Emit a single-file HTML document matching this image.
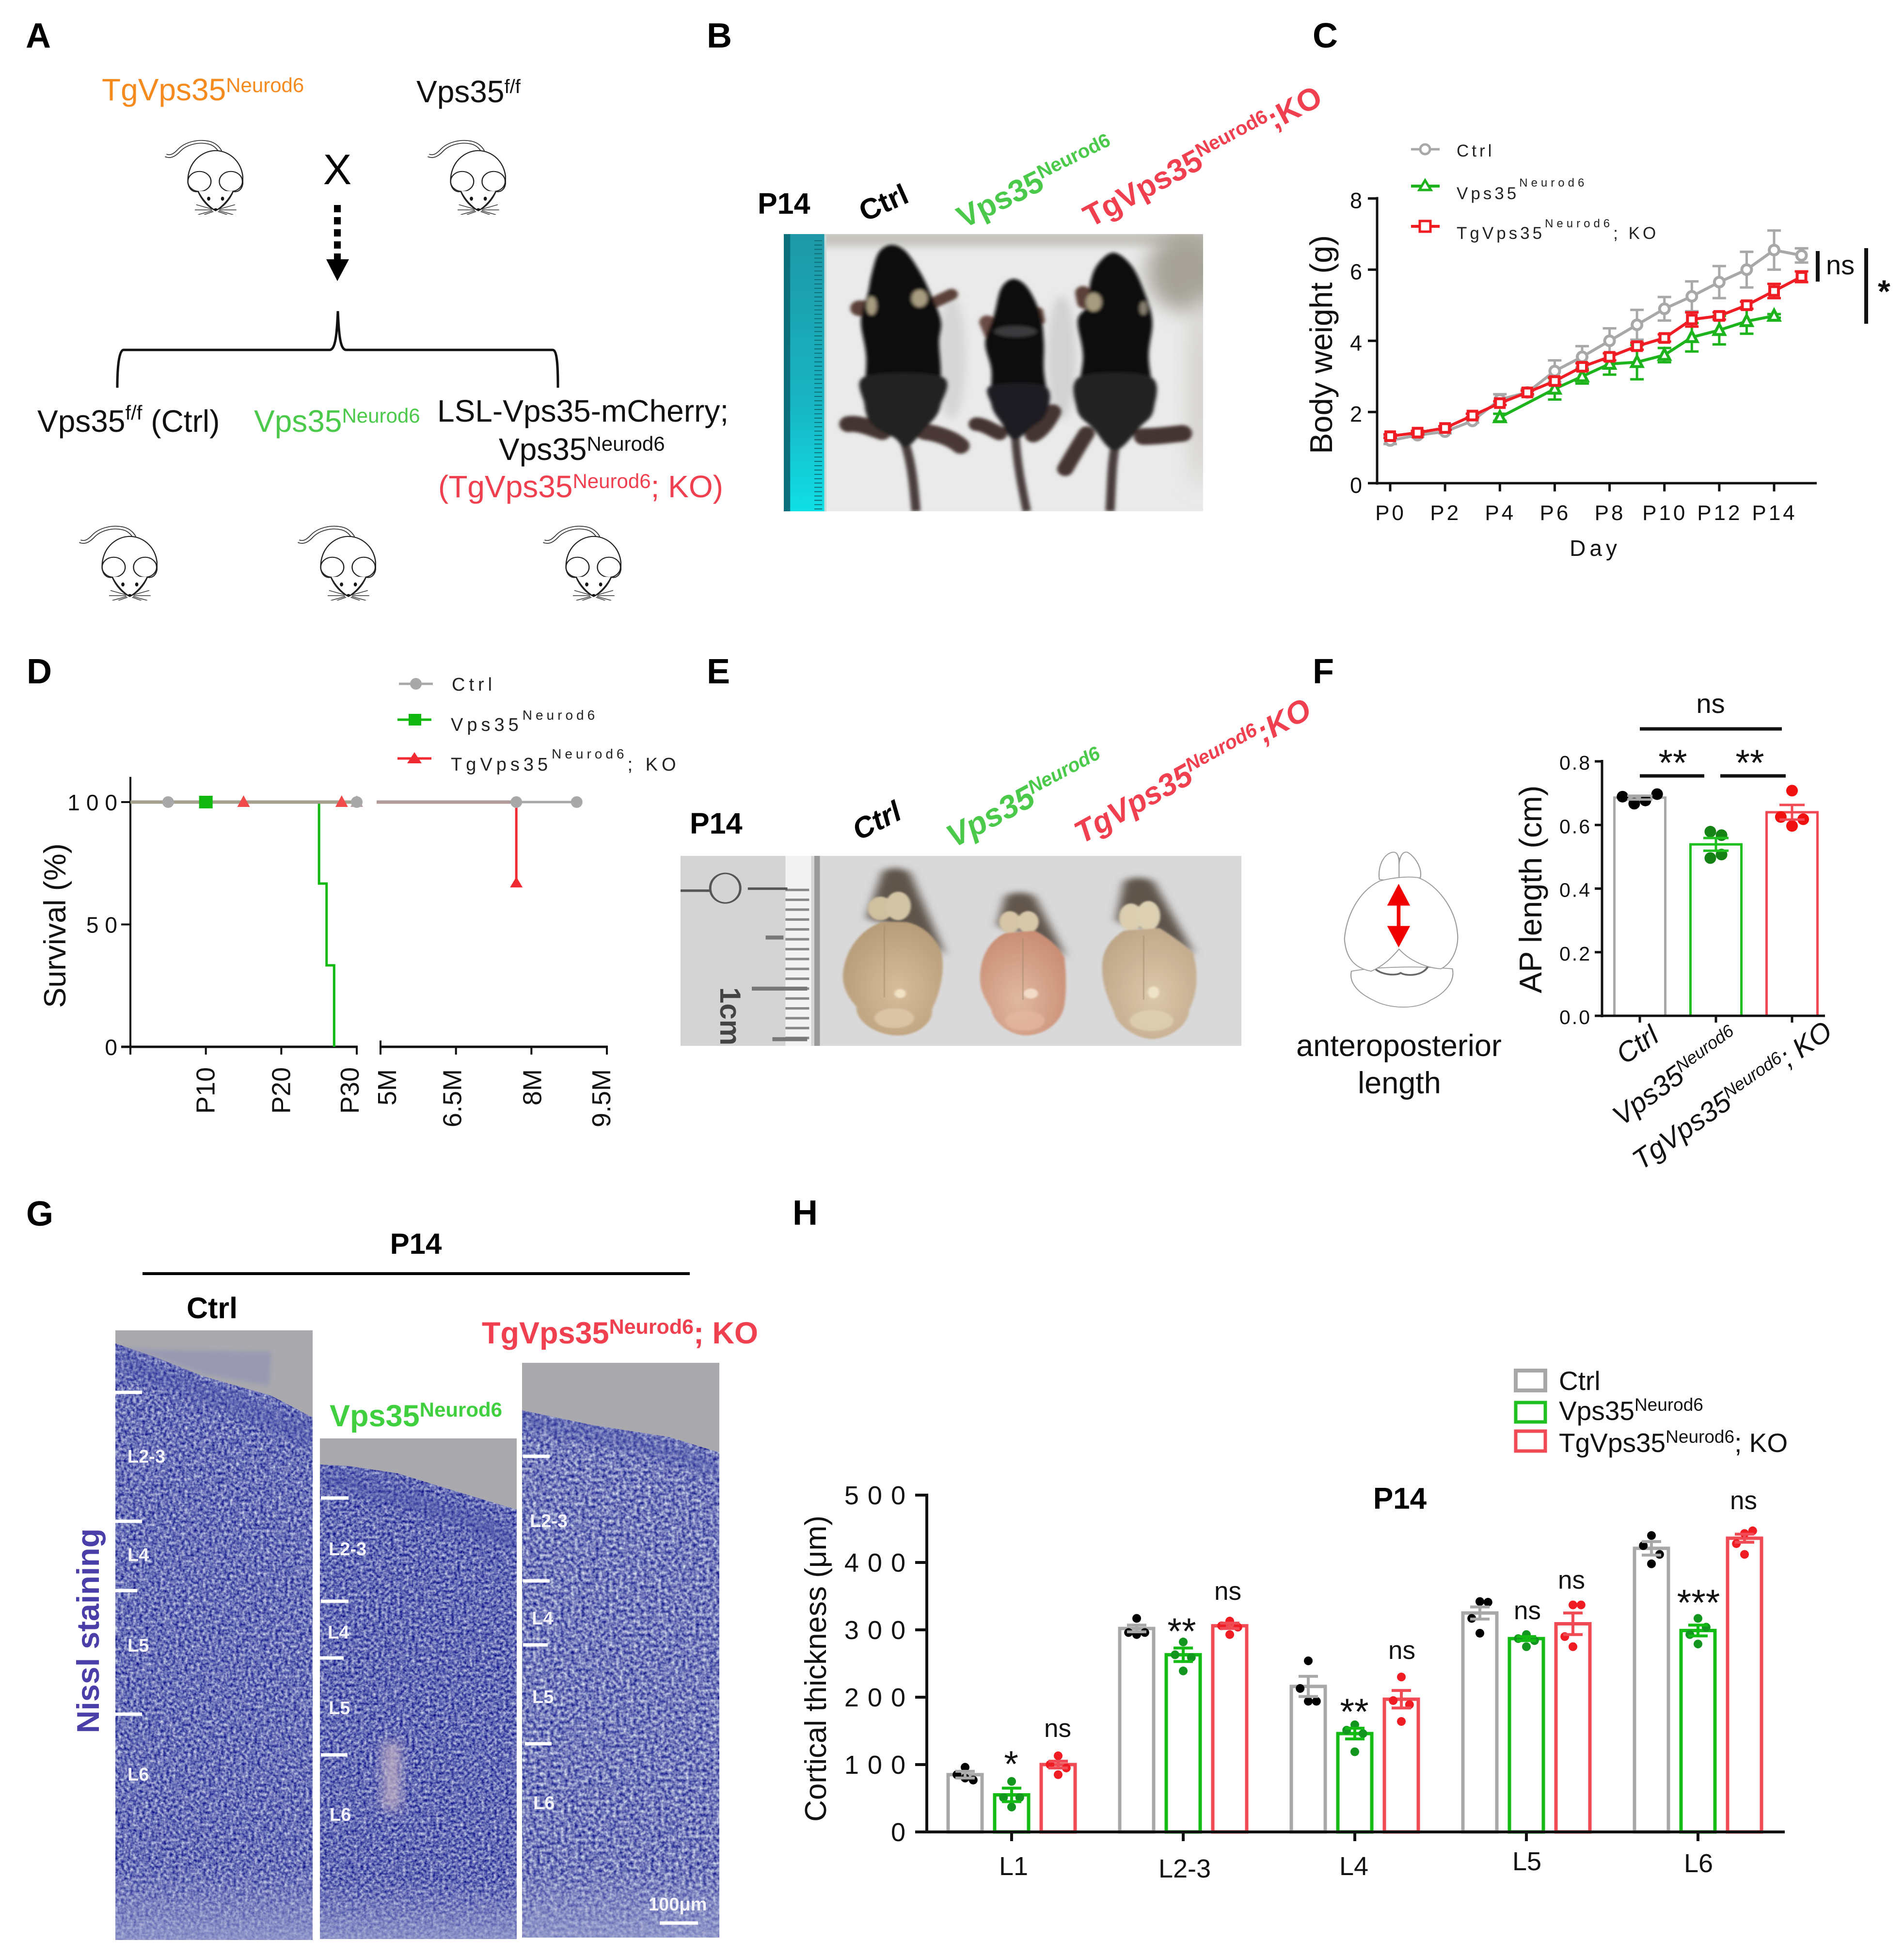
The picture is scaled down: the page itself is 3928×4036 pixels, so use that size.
<!DOCTYPE html>
<html><head><meta charset="utf-8"><title>Vps35 figure</title>
<style>html,body{margin:0;padding:0;background:#fff}svg{display:block}text{font-family:"Liberation Sans",sans-serif}</style></head>
<body>
<svg id="fig" xmlns="http://www.w3.org/2000/svg" width="3928" height="4036" viewBox="0 0 3928 4036">
<defs>
<filter id="b3" x="-20%" y="-20%" width="140%" height="140%"><feGaussianBlur stdDeviation="3"/></filter>
<filter id="b6" x="-20%" y="-20%" width="140%" height="140%"><feGaussianBlur stdDeviation="5"/></filter>
<filter id="b12" x="-50%" y="-50%" width="200%" height="200%"><feGaussianBlur stdDeviation="12"/></filter>
<filter id="b30" x="-80%" y="-80%" width="260%" height="260%"><feGaussianBlur stdDeviation="30"/></filter>
<filter id="n1" filterUnits="objectBoundingBox" x="0" y="0" width="1" height="1" color-interpolation-filters="sRGB"><feTurbulence type="fractalNoise" baseFrequency="0.16" numOctaves="2" seed="3"/><feColorMatrix type="matrix" values="1.1 0 0 0 -0.13 1.1 0 0 0 -0.103 .55 0 0 0 .445 0 0 0 0 1"/></filter>
<filter id="n2" filterUnits="objectBoundingBox" x="0" y="0" width="1" height="1" color-interpolation-filters="sRGB"><feTurbulence type="fractalNoise" baseFrequency="0.16" numOctaves="2" seed="11"/><feColorMatrix type="matrix" values="1.1 0 0 0 -0.15 1.1 0 0 0 -0.123 .55 0 0 0 .435 0 0 0 0 1"/></filter>
<filter id="n3" filterUnits="objectBoundingBox" x="0" y="0" width="1" height="1" color-interpolation-filters="sRGB"><feTurbulence type="fractalNoise" baseFrequency="0.14" numOctaves="2" seed="23"/><feColorMatrix type="matrix" values="1.1 0 0 0 -0.09 1.1 0 0 0 -0.063 .55 0 0 0 .46 0 0 0 0 1"/></filter>
<linearGradient id="rul" x1="0" y1="0" x2="0" y2="1"><stop offset="0" stop-color="#1e98a6"/><stop offset=".6" stop-color="#18b4c2"/><stop offset="1" stop-color="#10dfe6"/></linearGradient>
<linearGradient id="botband" x1="0" y1="0" x2="0" y2="1"><stop offset="0" stop-color="#9ca2cf" stop-opacity="0"/><stop offset="1" stop-color="#9ca2cf" stop-opacity=".7"/></linearGradient>
<radialGradient id="br1" cx=".55" cy=".6" r=".65"><stop offset="0" stop-color="#d8bd9a"/><stop offset="1" stop-color="#b59a76"/></radialGradient>
<radialGradient id="br2" cx=".45" cy=".65" r=".65"><stop offset="0" stop-color="#e0b8a0"/><stop offset="1" stop-color="#c98e74"/></radialGradient>
<radialGradient id="br3" cx=".55" cy=".6" r=".65"><stop offset="0" stop-color="#dcc8aa"/><stop offset="1" stop-color="#bfa688"/></radialGradient>
<symbol id="mouse" viewBox="0 0 170 190" preserveAspectRatio="none">
<path d="M2,42 C14,48 24,38 32,28 C46,12 72,4 95,10 C106,13 114,20 120,32" fill="none" stroke="#333" stroke-width="9"/>
<path d="M2,42 C14,48 24,38 32,28 C46,12 72,4 95,10 C106,13 114,20 120,32" fill="none" stroke="#fff" stroke-width="5"/>
<path d="M50,110 C48,60 80,30 110,30 C140,30 172,60 169,110 C168,125 160,135 148,132 C140,155 125,172 110,180 C95,172 80,155 72,132 C60,135 52,125 50,110 Z" fill="#fff" stroke="#222" stroke-width="2.5"/>
<circle cx="75" cy="107" r="25" fill="#fff" stroke="#222" stroke-width="2.5"/><circle cx="143" cy="107" r="25" fill="#fff" stroke="#222" stroke-width="2.5"/>
<path d="M72,131 C80,150 95,170 110,180 C125,170 140,150 148,131" fill="#fff" stroke="#222" stroke-width="2.5"/>
<ellipse cx="95" cy="150" rx="3.5" ry="5" fill="#111"/><ellipse cx="125" cy="150" rx="3.5" ry="5" fill="#111"/><ellipse cx="110" cy="177" rx="4" ry="3" fill="#111"/>
<path d="M102,176 L68,165 M102,178 L65,178 M103,180 L72,190 M105,182 L85,190 M118,176 L152,165 M118,178 L155,178 M117,180 L148,190 M115,182 L135,190" stroke="#333" stroke-width="1.8" fill="none"/>
</symbol>
</defs>
<rect width="3928" height="4036" fill="#fff"/>

<!-- panel letters -->
<g font-weight="bold" font-size="72" fill="#000">
<text x="53" y="98">A</text>
<text x="1458" y="98">B</text>
<text x="2708" y="98">C</text>
<text x="55" y="1410">D</text>
<text x="1458" y="1410">E</text>
<text x="2708" y="1410">F</text>
<text x="54" y="2529">G</text>
<text x="1635" y="2527">H</text>
</g>

<!-- Panel A -->
<g font-size="64">
<text x="210" y="207" fill="#f58a1f">TgVps35<tspan dy="-17" font-size="42">Neurod6</tspan></text>
<text x="859" y="211" fill="#111">Vps35<tspan dy="-19" font-size="40">f/f</tspan></text>
<use href="#mouse" x="340" y="286" width="162" height="157"/>
<use href="#mouse" x="882" y="286" width="162" height="157"/>
<text x="696" y="380" text-anchor="middle" font-size="88" fill="#000">X</text>
<line x1="696" y1="423" x2="696" y2="536" stroke="#000" stroke-width="14" stroke-dasharray="15 10"/>
<polygon points="673,535 720,535 696,580" fill="#000"/>
<path d="M242,800 C242,760 245,722 255,722 L680,722 C692,722 695,690 697,642 C699,690 702,722 714,722 L1140,722 C1150,722 1151,760 1151,800" fill="none" stroke="#111" stroke-width="5"/>
<text x="77" y="891" fill="#111">Vps35<tspan dy="-25" font-size="42">f/f</tspan><tspan dy="25"> (Ctrl)</tspan></text>
<text x="524" y="891" fill="#4bc94b">Vps35<tspan dy="-19" font-size="42">Neurod6</tspan></text>
<text x="902" y="870" fill="#111">LSL-Vps35-mCherry;</text>
<text x="1029" y="949" fill="#111">Vps35<tspan dy="-19" font-size="42">Neurod6</tspan></text>
<text x="904" y="1026" fill="#f04050">(TgVps35<tspan dy="-19" font-size="42">Neurod6</tspan><tspan dy="19">; KO)</tspan></text>
<use href="#mouse" x="163" y="1082" width="162" height="157"/>
<use href="#mouse" x="614" y="1082" width="162" height="157"/>
<use href="#mouse" x="1120" y="1082" width="162" height="157"/>
</g>

<!-- Panel B -->
<g>
<text x="1563" y="441" font-size="61" font-weight="bold">P14</text>
<text transform="translate(1784,458) rotate(-24)" font-size="60" font-weight="bold">Ctrl</text>
<text transform="translate(1988,472) rotate(-26)" font-size="64" font-weight="bold" fill="#4bc94b">Vps35<tspan dy="-22" font-size="40">Neurod6</tspan></text>
<text transform="translate(2250,470) rotate(-28)" font-size="64" font-weight="bold" fill="#f04050">TgVps35<tspan dy="-22" font-size="40">Neurod6</tspan><tspan dy="22">;KO</tspan></text>
<svg x="1617" y="483" width="865" height="572" viewBox="228 600 1180 897" preserveAspectRatio="none">
<rect x="228" y="600" width="1180" height="897" fill="#eaeaea"/>
<rect x="228" y="590" width="1200" height="50" fill="#c6c4be" filter="url(#b12)"/>
<ellipse cx="1360" cy="720" rx="110" ry="130" fill="#a6a298" filter="url(#b30)"/>
<ellipse cx="1400" cy="1100" rx="30" ry="320" fill="#d0cec8" filter="url(#b30)"/>
<ellipse cx="700" cy="1000" rx="40" ry="200" fill="#d6d6d6" filter="url(#b12)"/>
<ellipse cx="1010" cy="1000" rx="40" ry="200" fill="#d2d2d2" filter="url(#b12)"/>
<rect x="228" y="600" width="114" height="897" fill="url(#rul)"/>
<rect x="228" y="600" width="18" height="897" fill="#0c6f7c"/>
<line x1="325" y1="620" x2="325" y2="1497" stroke="#0d6e78" stroke-width="22" stroke-dasharray="3 11"/>
<rect x="342" y="600" width="6" height="897" fill="#c8d8d8"/>
<g filter="url(#b6)">
<path d="M570,1280 C590,1350 595,1430 600,1497" stroke="#4a3c3c" stroke-width="26" fill="none"/>
<path d="M880,1260 C885,1350 900,1430 912,1497" stroke="#4a3c3c" stroke-width="24" fill="none"/>
<path d="M1160,1290 C1150,1350 1150,1430 1146,1497" stroke="#4a3c3c" stroke-width="26" fill="none"/>
<path d="M410,1215 C440,1210 480,1230 505,1240" stroke="#453530" stroke-width="52" fill="none" stroke-linecap="round"/>
<path d="M625,1240 C660,1245 700,1260 725,1285" stroke="#4a3734" stroke-width="52" fill="none" stroke-linecap="round"/>
<path d="M770,1215 C790,1215 815,1235 835,1245" stroke="#453530" stroke-width="44" fill="none" stroke-linecap="round"/>
<path d="M930,1250 C955,1235 975,1200 985,1175" stroke="#453530" stroke-width="48" fill="none" stroke-linecap="round"/>
<path d="M1080,1245 C1060,1280 1040,1320 1020,1360" stroke="#453530" stroke-width="46" fill="none" stroke-linecap="round"/>
<path d="M1240,1255 C1280,1255 1320,1248 1350,1245" stroke="#453530" stroke-width="54" fill="none" stroke-linecap="round"/>
<path d="M440,840 L480,840" stroke="#5a4038" stroke-width="50" stroke-linecap="round"/>
<path d="M645,825 L700,795" stroke="#5a4038" stroke-width="36" stroke-linecap="round"/>
<path d="M800,885 L815,925" stroke="#6a4c44" stroke-width="44" stroke-linecap="round"/>
<path d="M945,850 L950,880" stroke="#5a4038" stroke-width="26" stroke-linecap="round"/>
<path d="M1070,790 L1075,820" stroke="#5a4038" stroke-width="44" stroke-linecap="round"/>
<path data-smooth="530,635 495,660 475,730 465,790 445,880 460,1000 455,1150 480,1220 540,1255 570,1290 600,1255 665,1170 670,1050 665,950 670,880 640,790 610,720 570,655" fill="#0b0b0c"/>
<path data-smooth="875,745 840,775 820,860 795,950 812,1040 812,1150 840,1210 875,1265 920,1230 970,1170 960,1040 960,950 950,860 915,775" fill="#0b0b0c"/>
<path data-smooth="1155,660 1110,700 1090,760 1085,830 1055,880 1070,1000 1052,1160 1100,1230 1160,1300 1230,1225 1270,1160 1255,1000 1265,880 1240,780 1205,700" fill="#0b0b0c"/>
<path data-smooth="458,1060 670,1060 670,1150 610,1250 570,1290 540,1260 480,1220 455,1150" fill="#222224"/>
<path data-smooth="812,1090 960,1090 970,1170 920,1230 875,1265 840,1210 812,1150" fill="#1e1e20"/>
<path data-smooth="1064,1060 1257,1060 1270,1160 1230,1225 1160,1300 1100,1230 1052,1160" fill="#222224"/>
<ellipse cx="475" cy="832" rx="14" ry="30" fill="#a89c80"/><ellipse cx="610" cy="808" rx="22" ry="28" fill="#a89c80"/>
<ellipse cx="1100" cy="820" rx="22" ry="30" fill="#a89c80"/><ellipse cx="1240" cy="840" rx="10" ry="22" fill="#888070"/>
<ellipse cx="880" cy="915" rx="60" ry="18" fill="#3a3a3c"/>
</g>
</svg>
</g>

<!-- Panel C -->
<g id="panel-c">
<g font-size="35" letter-spacing="6" fill="#222">
<g><line x1="2911" x2="2970" y1="308" y2="308" stroke="#a8a8a8" stroke-width="5"/><circle cx="2940" cy="308" r="10" fill="#fff" stroke="#a8a8a8" stroke-width="5"/><text x="3005" y="323">Ctrl</text></g>
<g><line x1="2911" x2="2970" y1="384" y2="384" stroke="#1db31d" stroke-width="6"/><polygon points="2940,372 2952,392 2928,392" fill="#fff" stroke="#1db31d" stroke-width="5"/><text x="3005" y="411">Vps35<tspan dy="-26" font-size="24" letter-spacing="7">Neurod6</tspan></text></g>
<g><line x1="2911" x2="2970" y1="467" y2="467" stroke="#f01c24" stroke-width="6"/><rect x="2929" y="456" width="22" height="22" fill="#fff" stroke="#f01c24" stroke-width="5"/><text x="3005" y="493">TgVps35<tspan dy="-24" font-size="24" letter-spacing="7">Neurod6</tspan><tspan dy="24">; KO</tspan></text></g>
</g>
<text transform="translate(2748,711) rotate(-90)" text-anchor="middle" font-size="65" fill="#111">Body weight (g)</text>
<text x="3291" y="1147" text-anchor="middle" font-size="46" letter-spacing="8" fill="#111">Day</text>
<line x1="3750" x2="3750" y1="518" y2="581" stroke="#111" stroke-width="8"/>
<text x="3767" y="566" font-size="56" fill="#111">ns</text>
<line x1="3850" x2="3850" y1="512" y2="668" stroke="#111" stroke-width="8"/>
<text x="3874" y="624" font-size="66" font-weight="bold" fill="#111">*</text>
</g>

<!-- Panel D -->
<g id="panel-d">
<g font-size="38" letter-spacing="8" fill="#222">
<g><line x1="823" x2="893" y1="1411" y2="1411" stroke="#a8a8a8" stroke-width="5"/><circle cx="858" cy="1411" r="12" fill="#a8a8a8"/><text x="932" y="1425">Ctrl</text></g>
<g><line x1="820" x2="890" y1="1485" y2="1485" stroke="#10b810" stroke-width="5"/><rect x="843" y="1473" width="26" height="24" fill="#10b810"/><text x="930" y="1508">Vps35<tspan dy="-23" font-size="28" letter-spacing="7">Neurod6</tspan></text></g>
<g><line x1="820" x2="890" y1="1565" y2="1565" stroke="#f02a30" stroke-width="5"/><polygon points="855,1552 870,1575 840,1575" fill="#f02a30"/><text x="930" y="1590">TgVps35<tspan dy="-25" font-size="28" letter-spacing="7">Neurod6</tspan><tspan dy="25">; KO</tspan></text></g>
</g>
<text transform="translate(135,1910) rotate(-90)" text-anchor="middle" font-size="63" fill="#111">Survival (%)</text>
</g>

<!-- Panel E -->
<g>
<text x="1423" y="1720" font-size="61" font-weight="bold">P14</text>
<text transform="translate(1772,1735) rotate(-27)" font-size="60" font-weight="bold" font-style="italic">Ctrl</text>
<text transform="translate(1968,1750) rotate(-28)" font-size="66" font-weight="bold" font-style="italic" fill="#4bc94b">Vps35<tspan dy="-22" font-size="40">Neurod6</tspan></text>
<text transform="translate(2232,1742) rotate(-29)" font-size="64" font-weight="bold" font-style="italic" fill="#f04050">TgVps35<tspan dy="-22" font-size="40">Neurod6</tspan><tspan dy="22">;KO</tspan></text>
<svg x="1404" y="1766" width="1157" height="392" viewBox="30 717 1417 770" preserveAspectRatio="none">
<rect x="30" y="717" width="1417" height="770" fill="#d9d9da"/>
<rect x="30" y="717" width="335" height="770" fill="#d4d4d4"/>
<rect x="295" y="717" width="65" height="770" fill="#f2f2f2"/>
<rect x="368" y="717" width="14" height="770" fill="#9a9a9a"/>
<line x1="325" y1="850" x2="325" y2="1470" stroke="#888" stroke-width="60" stroke-dasharray="10 30"/>
<ellipse cx="143" cy="848" rx="38" ry="60" fill="#d4d4d4" stroke="#555" stroke-width="6"/>
<path d="M30,858 H105 M200,850 H300" stroke="#555" stroke-width="10"/>
<path d="M245,1048 H290 M210,1255 H350 M262,1460 H350" stroke="#777" stroke-width="16"/>
<g filter="url(#b12)">
<path d="M540,780 Q575,750 610,785 L700,1120 L600,1010 L500,970 Z" fill="#5f554c"/>
<path d="M850,880 Q885,850 925,880 L1005,1130 L920,1040 L830,1000 Z" fill="#62574d"/>
<path d="M1150,820 Q1185,790 1225,820 L1330,1120 L1230,1020 L1130,980 Z" fill="#5f554c"/>
</g>
<g filter="url(#b3)">
<ellipse cx="535" cy="930" rx="32" ry="48" fill="#cfc09f"/><ellipse cx="580" cy="920" rx="32" ry="58" fill="#d2c4a4"/>
<path d="M540,985 C490,1010 445,1090 440,1200 C440,1270 465,1310 475,1330 C470,1380 520,1445 580,1445 C630,1445 670,1390 665,1340 C680,1290 695,1220 692,1140 C690,1070 650,1000 600,985 Z" fill="url(#br1)"/>
<ellipse cx="585" cy="1275" rx="14" ry="18" fill="#f2e2c4"/><ellipse cx="570" cy="1375" rx="50" ry="40" fill="#e2cdb0" opacity=".7"/></g>
<g filter="url(#b3)">
<ellipse cx="862" cy="985" rx="27" ry="44" fill="#d6c5a6"/><ellipse cx="908" cy="985" rx="27" ry="44" fill="#d8c8aa"/>
<path d="M850,1030 C810,1060 785,1130 787,1220 C787,1270 805,1310 815,1340 C820,1390 860,1445 905,1445 C960,1440 995,1380 1000,1320 C1005,1270 1005,1200 1000,1130 C985,1080 950,1040 925,1020 Z" fill="url(#br2)"/>
<ellipse cx="915" cy="1275" rx="18" ry="20" fill="#f2dcc8"/><ellipse cx="900" cy="1385" rx="50" ry="40" fill="#e6b8a2" opacity=".7"/></g>
<g filter="url(#b3)">
<ellipse cx="1168" cy="965" rx="30" ry="55" fill="#dbceb0"/><ellipse cx="1212" cy="960" rx="30" ry="60" fill="#ddd0b2"/>
<path d="M1150,1020 C1110,1060 1095,1110 1095,1170 C1095,1250 1115,1310 1125,1350 C1130,1400 1180,1460 1225,1460 C1280,1450 1315,1390 1315,1340 C1335,1280 1340,1200 1325,1110 C1290,1060 1260,1030 1240,1010 Z" fill="url(#br3)"/>
<ellipse cx="1225" cy="1270" rx="14" ry="24" fill="#f0e4c8"/><ellipse cx="1220" cy="1385" rx="55" ry="42" fill="#e2d4b8" opacity=".7"/></g>
<path d="M545,1000 V1290 M895,1050 V1300 M1200,1040 V1300" stroke="#a08a6c" stroke-width="4" opacity=".45"/>
</svg>
<text transform="translate(1486,2037) rotate(90)" font-size="60" font-weight="bold" fill="#444">1cm</text>
</g>

<!-- Panel F -->
<g id="panel-f">
<g transform="translate(2600,1320) scale(.847,.7015)" fill="#fff" stroke="#999" stroke-width="2.5">
<path d="M222,975 C215,1010 240,1040 275,1060 C310,1085 380,1090 415,1060 C450,1040 475,1005 468,968 C400,960 290,960 222,975 Z"/>
<path d="M278,965 C290,985 330,990 342,980 C355,990 395,990 408,962" fill="none" stroke="#666" stroke-width="5"/>
<path d="M290,705 C285,660 305,625 325,625 C335,625 338,640 338,660 C340,640 345,622 358,625 C375,635 395,670 390,700 L338,712 Z"/>
<line x1="338" y1="640" x2="338" y2="712"/>
<path d="M290,710 C240,740 210,810 205,880 C208,930 225,965 270,975 C300,960 320,935 338,910 C360,940 400,965 440,968 C470,950 485,900 480,860 C475,790 430,720 385,700 C360,695 320,700 290,710 Z"/>
<line x1="337" y1="770" x2="337" y2="850" stroke="#f00000" stroke-width="9"/>
<polygon points="337,718 365,782 309,782" fill="#f00000" stroke="none"/>
<polygon points="337,905 365,842 309,842" fill="#f00000" stroke="none"/>
</g>
<text x="2886" y="2179" text-anchor="middle" font-size="63" fill="#111">anteroposterior</text>
<text x="2887" y="2256" text-anchor="middle" font-size="63" fill="#111">length</text>
<text transform="translate(3180,1835) rotate(-90)" text-anchor="middle" font-size="65" fill="#111">AP length (cm)</text>
<line x1="3383" x2="3676" y1="1504" y2="1504" stroke="#111" stroke-width="7"/>
<text x="3529" y="1471" text-anchor="middle" font-size="56" fill="#111">ns</text>
<line x1="3383" x2="3516" y1="1601" y2="1601" stroke="#111" stroke-width="7"/>
<line x1="3549" x2="3684" y1="1601" y2="1601" stroke="#111" stroke-width="7"/>
<text x="3451" y="1600" text-anchor="middle" font-size="76" fill="#111">**</text>
<text x="3610" y="1600" text-anchor="middle" font-size="76" fill="#111">**</text>
<text transform="translate(3426,2146) rotate(-35)" text-anchor="end" font-size="58" font-style="italic" fill="#111">Ctrl</text>
<text transform="translate(3590,2147) rotate(-36)" text-anchor="end" font-size="58" font-style="italic" fill="#111">Vps35<tspan dy="-18" font-size="36">Neurod6</tspan></text>
<text transform="translate(3784,2137) rotate(-35)" text-anchor="end" font-size="58" font-style="italic" fill="#111">TgVps35<tspan dy="-18" font-size="36">Neurod6</tspan><tspan dy="18">; KO</tspan></text>
</g>

<!-- Panel G -->
<g>
<text x="858" y="2587" text-anchor="middle" font-size="60" font-weight="bold">P14</text>
<line x1="294" x2="1423" y1="2628" y2="2628" stroke="#000" stroke-width="6"/>
<text x="385" y="2720" font-size="61" font-weight="bold">Ctrl</text>
<text x="680" y="2943" font-size="63" font-weight="bold" fill="#3fcf3f">Vps35<tspan dy="-20" font-size="42">Neurod6</tspan></text>
<text x="994" y="2772" font-size="63" font-weight="bold" fill="#f04050">TgVps35<tspan dy="-20" font-size="43">Neurod6</tspan><tspan dy="20">; KO</tspan></text>
<text transform="translate(204,3365) rotate(-90)" text-anchor="middle" font-size="65" font-weight="bold" fill="#4a3fa8">Nissl staining</text>

<svg x="238" y="2745" width="407" height="1258" viewBox="238 2745 407 1258">
<rect x="238" y="2745" width="407" height="1258" filter="url(#n1)"/>
<rect x="238" y="3850" width="407" height="153" fill="url(#botband)"/>
<path d="M238,2800 C320,2850 480,2880 645,2970" fill="none" stroke="#4c52a8" stroke-width="40" opacity=".4" filter="url(#b12)"/>
<polygon points="238,2745 645,2745 645,2925 560,2880 420,2840 320,2800 238,2772" fill="#a9a9ae"/>
<polygon points="250,2780 326,2785 560,2790 555,2860 420,2835 320,2800" fill="#8c8cb6" opacity=".55" filter="url(#b6)"/>
</svg>
<svg x="660" y="2968" width="406" height="1033" viewBox="660 2968 406 1033">
<rect x="660" y="2968" width="406" height="1033" filter="url(#n2)"/>
<rect x="660" y="3880" width="406" height="121" fill="url(#botband)"/>
<path d="M660,3050 C780,3070 930,3120 1066,3180" fill="none" stroke="#4c52a8" stroke-width="34" opacity=".45" filter="url(#b12)"/>
<polygon points="660,2968 1066,2968 1066,3115 950,3080 820,3040 720,3025 660,3022" fill="#a9a9ae"/>
<rect x="790" y="3595" width="36" height="140" fill="#c0aec4" opacity=".85" filter="url(#b12)"/>
</svg>
<svg x="1077" y="2812" width="407" height="1186" viewBox="1077 2812 407 1186">
<rect x="1077" y="2812" width="407" height="1186" filter="url(#n3)"/>
<rect x="1077" y="3850" width="407" height="148" fill="url(#botband)"/>
<path d="M1077,2930 C1200,2955 1350,2975 1484,3035" fill="none" stroke="#4c52a8" stroke-width="34" opacity=".45" filter="url(#b12)"/>
<polygon points="1077,2812 1484,2812 1484,2997 1380,2965 1220,2940 1077,2910" fill="#a9a9ae"/>
</svg>
<g stroke="#fff" stroke-width="7">
<path d="M238,2873 H293 M238,3139 H293 M238,3282 H283 M238,3537 H293"/>
<path d="M662,3091 H719 M662,3304 H719 M660,3421 H709 M662,3621 H717"/>
<path d="M1079,3005 H1134 M1079,3262 H1134 M1079,3394 H1130 M1083,3598 H1138"/>
<path d="M1361,3968 H1440"/>
</g>
<g font-size="38" font-weight="bold" fill="#f2f2f8">
<text x="263" y="3018">L2-3</text><text x="263" y="3221">L4</text><text x="263" y="3408">L5</text><text x="263" y="3674">L6</text>
<text x="678" y="3209">L2-3</text><text x="676" y="3381">L4</text><text x="678" y="3537">L5</text><text x="680" y="3757">L6</text>
<text x="1093" y="3151">L2-3</text><text x="1097" y="3352">L4</text><text x="1098" y="3514">L5</text><text x="1100" y="3733">L6</text>
<text x="1338" y="3942" font-size="38">100μm</text>
</g>
</g>

<!-- Panel H -->
<g id="panel-h">
<g font-size="55" fill="#111">
<g><rect x="3127" y="2828" width="61" height="41" fill="#fff" stroke="#a8a8a8" stroke-width="8"/><text x="3216" y="2868">Ctrl</text></g>
<g><rect x="3127" y="2894" width="61" height="40" fill="#fff" stroke="#20c020" stroke-width="7"/><text x="3216" y="2930">Vps35<tspan dy="-19" font-size="37">Neurod6</tspan></text></g>
<g><rect x="3127" y="2953" width="61" height="41" fill="#fff" stroke="#f04a55" stroke-width="7"/><text x="3216" y="2996">TgVps35<tspan dy="-19" font-size="37">Neurod6</tspan><tspan dy="19">; KO</tspan></text></g>
</g>
<text x="2888" y="3113" text-anchor="middle" font-size="62" font-weight="bold">P14</text>
<text transform="translate(1704,3443) rotate(-90)" text-anchor="middle" font-size="62" fill="#111">Cortical thickness (μm)</text>
<g fill="#111" text-anchor="middle">
<g font-size="53"><text x="2182" y="3584">ns</text><text x="2533" y="3301">ns</text><text x="2892" y="3423">ns</text><text x="3151" y="3341">ns</text><text x="3242" y="3278">ns</text><text x="3597" y="3114">ns</text></g>
<g font-size="76"><text x="2086" y="3666">*</text><text x="2438" y="3392">**</text><text x="2794" y="3558">**</text><text x="3504" y="3333">***</text></g>
</g>
</g>

<script>
// ---------- Panel C data ----------
const weightDays = [0,1,2,3,4,5,6,7,8,9,10,11,12,13,14,15];
const weightCtrl = [1.2,1.35,1.45,1.75,2.35,2.55,3.15,3.55,4.0,4.45,4.9,5.25,5.65,6.0,6.55,6.4];
const weightCtrlErr = [.1,.05,.05,.05,.15,.1,.3,.3,.35,.42,.33,.42,.45,.5,.55,.2];
const weightVpsDays = [4,6,7,8,9,10,11,12,13,14];
const weightVps = [1.85,2.65,3.0,3.35,3.4,3.6,4.1,4.3,4.55,4.7];
const weightVpsErr = [.1,.3,.2,.3,.48,.2,.4,.4,.35,.05];
const weightTg = [1.32,1.42,1.55,1.9,2.25,2.55,2.87,3.27,3.55,3.85,4.08,4.6,4.7,5.0,5.4,5.8];
const weightTgErr = [.05,.05,.05,.05,.05,.05,.1,.1,.1,.1,.1,.2,.1,.1,.2,.15];
const weightYTicks = [0,2,4,6,8];
const weightXTicks = [0,2,4,6,8,10,12,14];
const weightXLabels = ['P0','P2','P4','P6','P8','P10','P12','P14'];

// ---------- Panel D data ----------
const survivalYTicks = [0,50,100];
const survivalDayTicks = [0,10,20,30];
const survivalDayLabels = ['','P10','P20','P30'];
const survivalMonthTicks = [5,6.5,8,9.5];
const survivalMonthLabels = ['5M','6.5M','8M','9.5M'];
const vpsDeathDays = [25,26,27];
const vpsDeathSurvival = [66.7,33.3,0];
const ctrlCensorDays = [5,30];
const ctrlCensorMonths = [7.7,8.9];
const vpsCensorDays = [10];
const tgCensorDays = [15,28,30];
const tgDeathMonths = [7.7];
const tgDeathSurvival = [66.7];

// ---------- Panel F data ----------
const apGroups = ['ctrl','vps35','tg'];
const apMeans = [.686,.539,.64];
const apErrs = [.006,.02,.023];
const apCtrlDots = [.689,.667,.677,.697];
const apVpsDots = [.579,.568,.507,.496];
const apTgDots = [.708,.625,.618,.597];
const apYTicks = [0,.2,.4,.6,.8];

// ---------- Panel H data ----------
const layers = ['L1','L2-3','L4','L5','L6'];
const thickCtrl = [85,302,216,325,421];
const thickVps = [55,263,146,287,299];
const thickTg = [100,306,197,309,436];
const thickCtrlErr = [5,5,15,9,10];
const thickVpsErr = [10,10,8,3,8];
const thickTgErr = [5,4,13,16,6];
const thickCtrlDots = [[96,85,77,80],[317,296,296,293],[254,213,194,194],[342,317,341,295],[440,425,412,398]];
const thickVpsDots = [[75,51,51,37],[282,263,259,239],[159,151,146,119],[293,287,284,275],[317,293,304,279]];
const thickTgDots = [[113,100,95,85],[313,306,304,293],[230,195,189,164],[337,290,337,275],[443,428,447,412]];
const thickYTicks = [0,100,200,300,400,500];

const NS = 'http://www.w3.org/2000/svg';
function mk(parent, tag, attrs, txt){
  const e = document.createElementNS(NS, tag);
  for (const k in attrs) e.setAttribute(k, attrs[k]);
  if (txt !== undefined) e.textContent = txt;
  parent.appendChild(e);
  return e;
}

// smooth the hand-placed photo silhouettes (Catmull-Rom, closed)
document.querySelectorAll('[data-smooth]').forEach(p => {
  const q = p.getAttribute('data-smooth').split(' ').map(s => s.split(',').map(Number));
  const n = q.length;
  let d = 'M' + q[0].join(',');
  for (let i = 0; i < n; i++) {
    const a = q[(i-1+n)%n], b = q[i], c = q[(i+1)%n], e = q[(i+2)%n];
    d += `C${b[0]+(c[0]-a[0])/6},${b[1]+(c[1]-a[1])/6} ${c[0]-(e[0]-b[0])/6},${c[1]-(e[1]-b[1])/6} ${c[0]},${c[1]}`;
  }
  p.setAttribute('d', d + 'Z');
});

// ========== Panel C ==========
(function(){
  const g = document.getElementById('panel-c');
  const x = d => 2868 + d * (3660 - 2868) / 14;
  const y = v => 997 - v * (997 - 409.5) / 8;
  const ink = '#111';
  const yAxis = mk(g,'line',{x1:2841,x2:2841,y1:y(8)-3,y2:y(0)+3,stroke:ink,'stroke-width':5});
  
  
  const xAxis = mk(g,'line',{x1:2822,x2:3748,y1:y(0),y2:y(0),stroke:ink,'stroke-width':5});
  
  
  weightYTicks.forEach(v => {
    const t = mk(g,'line',{x1:2822,x2:2841,y1:y(v),y2:y(v),stroke:ink,'stroke-width':5});
    
    
    const l = mk(g,'text',{x:2810,y:y(v)+20,'text-anchor':'end','font-size':45,fill:ink},String(v));
    
    
  });
  weightXTicks.forEach((d,i) => {
    const t = mk(g,'line',{x1:x(d),x2:x(d),y1:y(0),y2:y(0)+17,stroke:ink,'stroke-width':5});
    
    
    const l = mk(g,'text',{x:x(d)+1,y:1073,'text-anchor':'middle','font-size':44,'letter-spacing':5,fill:ink},weightXLabels[i]);
    
    
  });
  function series(days, vals, errs, color, kind){
    const sg = mk(g,'g',{});
    
    
    days.forEach((d,i) => {
      const er = mk(sg,'path',{d:`M${x(d)-14},${y(vals[i]+errs[i])}H${x(d)+14}M${x(d)},${y(vals[i]+errs[i])}V${y(vals[i]-errs[i])}M${x(d)-14},${y(vals[i]-errs[i])}H${x(d)+14}`,stroke:color,'stroke-width':5,fill:'none'});
      
      
    });
    const line = mk(sg,'polyline',{points:days.map((d,i)=>x(d)+','+y(vals[i])).join(' '),fill:'none',stroke:color,'stroke-width':6});
    
    
    days.forEach((d,i) => {
      const cx = x(d), cy = y(vals[i]);
      let m;
      if (kind === 'ctrl') m = mk(sg,'circle',{cx:cx,cy:cy,r:10,fill:'#fff',stroke:color,'stroke-width':6});
      else if (kind === 'vps35') m = mk(sg,'polygon',{points:`${cx},${cy-12} ${cx+11},${cy+9} ${cx-11},${cy+9}`,fill:'#fff',stroke:color,'stroke-width':6});
      else m = mk(sg,'rect',{x:cx-9,y:cy-9,width:18,height:18,fill:'#fff',stroke:color,'stroke-width':6});
      
      
    });
  }
  series(weightDays, weightCtrl, weightCtrlErr, '#a8a8a8', 'ctrl');
  series(weightVpsDays, weightVps, weightVpsErr, '#1db31d', 'vps35');
  series(weightDays, weightTg, weightTgErr, '#f01c24', 'tg');
})();

// ========== Panel D ==========
(function(){
  const g = document.getElementById('panel-d');
  const xd = d => 269 + d * (736 - 269) / 30;
  const xm = m => 785 + (m - 5) * (1252 - 785) / 4.5;
  const y = v => 2160 - v * (2160 - 1655) / 100;
  const ink = '#111';
  const yAxis = mk(g,'line',{x1:269,x2:269,y1:1603,y2:2176,stroke:ink,'stroke-width':4});
  
  
  const xa1 = mk(g,'line',{x1:250,x2:738,y1:2160,y2:2160,stroke:ink,'stroke-width':5});
  
  
  const xa2 = mk(g,'line',{x1:783,x2:1254,y1:2160,y2:2160,stroke:ink,'stroke-width':5});
  
  
  survivalYTicks.forEach(v => {
    const t = mk(g,'line',{x1:250,x2:269,y1:y(v),y2:y(v),stroke:ink,'stroke-width':4});
    
    
    const l = mk(g,'text',{x:255,y:y(v)+17,'text-anchor':'end','font-size':46,'letter-spacing':13,fill:ink},String(v));
    
    
  });
  survivalDayTicks.forEach((d,i) => {
    const t = mk(g,'line',{x1:xd(d),x2:xd(d),y1:2160,y2:2176,stroke:ink,'stroke-width':4});
    
    
    if (survivalDayLabels[i]) {
      const lx = d === 30 ? xd(d) - 16 : xd(d) - 2;
      const l = mk(g,'text',{transform:`translate(${lx+20},2202) rotate(-90)`,'text-anchor':'end','font-size':54,fill:ink},survivalDayLabels[i]);
      
      
    }
  });
  survivalMonthTicks.forEach((m,i) => {
    const top = m === 5 ? 2147 : 2160;
    const t = mk(g,'line',{x1:xm(m),x2:xm(m),y1:top,y2:2176,stroke:ink,'stroke-width':4});
    
    
    const nudge = [12,-9,0,-13][i];
    const l = mk(g,'text',{transform:`translate(${xm(m)+nudge+20},2206) rotate(-90)`,'text-anchor':'end','font-size':54,fill:ink},survivalMonthLabels[i]);
    
    
  });
  // green step curve
  let pts = [[xd(0), y(100)]];
  let prev = 100;
  vpsDeathDays.forEach((d,i) => { pts.push([xd(d), y(prev)]); pts.push([xd(d), y(vpsDeathSurvival[i])]); prev = vpsDeathSurvival[i]; });
  const gs = mk(g,'polyline',{points:pts.map(p=>p.join(',')).join(' '),fill:'none',stroke:'#10b810','stroke-width':5});
  
  
  // flat overlapped lines
  const top1 = mk(g,'line',{x1:xd(0),x2:xd(30),y1:y(100),y2:y(100),stroke:'#a3a08f','stroke-width':7});
  
  
  const top2 = mk(g,'line',{x1:777,x2:xm(ctrlCensorMonths[1]),y1:y(100),y2:y(100),stroke:'#a8a8a8','stroke-width':5});
  
  
  const top3 = mk(g,'line',{x1:777,x2:xm(tgDeathMonths[0]),y1:y(100),y2:y(100),stroke:'#b09a9a','stroke-width':7});
  
  
  // red drop
  tgDeathMonths.forEach((m,i) => {
    const dr = mk(g,'line',{x1:xm(m),x2:xm(m),y1:y(100),y2:y(tgDeathSurvival[i]),stroke:'#f02a30','stroke-width':5});
    
    
    const tr = mk(g,'polygon',{points:`${xm(m)},${y(tgDeathSurvival[i])-14} ${xm(m)+13},${y(tgDeathSurvival[i])+8} ${xm(m)-13},${y(tgDeathSurvival[i])+8}`,fill:'#f02a30'});
    
    
  });
  vpsCensorDays.forEach(d => {
    const s = mk(g,'rect',{x:xd(d)-14,y:y(100)-13,width:28,height:26,fill:'#10b810'});
    
    
  });
  tgCensorDays.forEach(d => {
    const cx = xd(d);
    const t = mk(g,'polygon',{points:`${cx},${y(100)-14} ${cx+13},${y(100)+10} ${cx-13},${y(100)+10}`,fill:d===30?'#bda0a0':'#f04a4a'});
    
    
  });
  ctrlCensorDays.forEach(d => {
    const c = mk(g,'circle',{cx:xd(d),cy:y(100),r:12,fill:'#a8a8a8'});
    
    
  });
  ctrlCensorMonths.forEach(m => {
    const c = mk(g,'circle',{cx:xm(m),cy:y(100),r:12,fill:'#a8a8a8'});
    
    
  });
})();

// ========== Panel F ==========
(function(){
  const g = document.getElementById('panel-f');
  const y = v => 2096 - v * (2096 - 1571) / .8;
  const xc = i => 3383 + i * 157;
  const barW = 105;
  const strokes = ['#a8a8a8','#20c020','#f04a55'];
  const dotCols = ['#000','#148214','#f01010'];
  const dotSets = [apCtrlDots, apVpsDots, apTgDots];
  const offsets = [[-.34,-.11,.11,.34],[-.11,.11,.11,-.11],[0,-.22,.22,0]];
  apGroups.forEach((name,i) => {
    const b = mk(g,'rect',{x:xc(i)-barW/2,y:y(apMeans[i]),width:barW,height:y(0)-y(apMeans[i]),fill:'#fff',stroke:strokes[i],'stroke-width':5});
    
    
  });
  apGroups.forEach((name,i) => {
    dotSets[i].forEach((v,j) => {
      const c = mk(g,'circle',{cx:xc(i)+offsets[i][j]*barW,cy:y(v),r:12,fill:dotCols[i]});
      
      
    });
    const hi = y(apMeans[i]+apErrs[i]), lo = y(apMeans[i]-apErrs[i]);
    const er = mk(g,'path',{d:`M${xc(i)-26},${hi}H${xc(i)+26}M${xc(i)},${hi}V${lo}M${xc(i)-26},${lo}H${xc(i)+26}`,fill:'none',stroke:strokes[i],'stroke-width':5});
    
    
  });
  const ya = mk(g,'line',{x1:3305,x2:3305,y1:y(.8)-3,y2:y(0)+3,stroke:'#111','stroke-width':5});
  
  
  const xa = mk(g,'line',{x1:3290,x2:3765,y1:y(0),y2:y(0),stroke:'#111','stroke-width':5});
  
  
  apYTicks.forEach(v => {
    const t = mk(g,'line',{x1:3290,x2:3305,y1:y(v),y2:y(v),stroke:'#111','stroke-width':5});
    
    
    const l = mk(g,'text',{x:3283,y:y(v)+17,'text-anchor':'end','font-size':41,'letter-spacing':3,fill:'#111'},v.toFixed(1));
    
    
  });
  apGroups.forEach((name,i) => {
    const t = mk(g,'line',{x1:xc(i),x2:xc(i),y1:y(0),y2:y(0)+14,stroke:'#111','stroke-width':5});
    
    
  });
})();

// ========== Panel H ==========
(function(){
  const g = document.getElementById('panel-h');
  const y = v => 3780 - v * (3780 - 3085) / 500;
  const xg = i => 2087 + i * 354;
  const sep = 96, barW = 70;
  const strokes = ['#a8a8a8','#14bb14','#f04a55'];
  const dots = ['#000','#12961f','#f01c24'];
  const names = ['ctrl','vps35','tg'];
  const means = [thickCtrl, thickVps, thickTg];
  const errs = [thickCtrlErr, thickVpsErr, thickTgErr];
  const pts = [thickCtrlDots, thickVpsDots, thickTgDots];
  const off = [0,-.24,.24,0];
  layers.forEach((layer,i) => {
    names.forEach((nm,s) => {
      const cx = xg(i) + (s-1)*sep;
      const v = means[s][i];
      const b = mk(g,'rect',{x:cx-barW/2,y:y(v),width:barW,height:y(0)-y(v),fill:'#fff',stroke:strokes[s],'stroke-width':7});
      
      
      pts[s][i].forEach((d,j) => {
        const c = mk(g,'circle',{cx:cx+off[j]*barW,cy:y(d),r:9,fill:dots[s]});
        
        
      });
      const hi = y(v+errs[s][i]), lo = y(v-errs[s][i]);
      const er = mk(g,'path',{d:`M${cx-20},${hi}H${cx+20}M${cx},${hi}V${lo}M${cx-20},${lo}H${cx+20}`,fill:'none',stroke:strokes[s],'stroke-width':6});
      
      
    });
    const t = mk(g,'line',{x1:xg(i),x2:xg(i),y1:y(0),y2:y(0)+19,stroke:'#111','stroke-width':6});
    
    
    const ly = [3869,3874,3869,3859,3863][i];
    const l = mk(g,'text',{x:xg(i)+[4,3,-2,1,1][i],y:ly,'text-anchor':'middle','font-size':54,fill:'#111'},layer);
    
    
  });
  const ya = mk(g,'line',{x1:1912,x2:1912,y1:y(500)-3,y2:y(0)+3,stroke:'#111','stroke-width':6});
  
  
  const xa = mk(g,'line',{x1:1888,x2:3682,y1:y(0),y2:y(0),stroke:'#111','stroke-width':6});
  
  
  thickYTicks.forEach(v => {
    const t = mk(g,'line',{x1:1888,x2:1912,y1:y(v),y2:y(v),stroke:'#111','stroke-width':6});
    
    
    const l = mk(g,'text',{x:1886,y:y(v)+19,'text-anchor':'end','font-size':54,'letter-spacing':18,fill:'#111'},String(v));
    
    
  });
})();
</script>
</svg>
</body></html>
